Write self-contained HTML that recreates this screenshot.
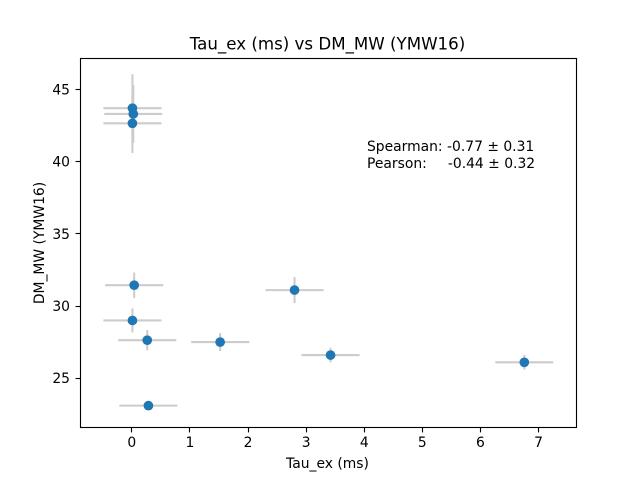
<!DOCTYPE html>
<html>
<head>
<meta charset="utf-8">
<title>Tau_ex (ms) vs DM_MW (YMW16)</title>
<style>
html,body{margin:0;padding:0;background:#fff;width:640px;height:480px;overflow:hidden}
svg{display:block}
text{font-family:"DejaVu Sans","Liberation Sans",sans-serif;fill:#000;white-space:pre}
</style>
</head>
<body>
<svg id="chart" width="640" height="480" viewBox="0 0 640 480" xmlns="http://www.w3.org/2000/svg">
  <rect x="0" y="0" width="640" height="480" fill="#fff"/>
  <g id="errors"></g>
  <g id="points"></g>
  <rect x="80.5" y="58.5" width="496" height="369" fill="none" stroke="#000" stroke-width="1.11"/>
  <g id="xticks"></g>
  <g id="yticks"></g>
  <text x="327.5" y="49.5" text-anchor="middle" font-size="16.67">Tau_ex (ms) vs DM_MW (YMW16)</text>
  <text x="327.5" y="468" text-anchor="middle" font-size="13.89">Tau_ex (ms)</text>
  <text transform="translate(44 243) rotate(-90)" text-anchor="middle" font-size="13.89">DM_MW (YMW16)</text>
  <text x="367" y="151" font-size="13.89" xml:space="preserve">Spearman: -0.77 ± 0.31</text>
  <text x="367" y="168" font-size="13.89" xml:space="preserve">Pearson:     <tspan dx="-1">-0.44 ± 0.32</tspan></text>
</svg>
<script>
var tauValues = [0.01, 0.025, 0.01, 0.04, 0.01, 0.265, 1.52, 0.285, 2.80, 3.42, 6.755];
var dmValues = [43.7, 43.3, 42.65, 31.44, 29.0, 27.63, 27.5, 23.1, 31.1, 26.6, 26.1];
var tauErrors = [0.5, 0.5, 0.5, 0.5, 0.5, 0.5, 0.5, 0.5, 0.5, 0.5, 0.5];
var dmErrors = [2.35, 2.0, 2.05, 0.88, 0.83, 0.7, 0.62, 0.3, 0.9, 0.5, 0.5];
var xTickValues = [0, 1, 2, 3, 4, 5, 6, 7];
var yTickValues = [25, 30, 35, 40, 45];

var NS = 'http://www.w3.org/2000/svg';
function xScale(v) { return 131.85 + 58.1 * v; }
function yScale(v) { return 89.4 + (45 - v) * 14.44; }
function snap(p) { return Math.floor(p) + 0.5; }

function line(parent, x1, y1, x2, y2, color, width) {
  var el = document.createElementNS(NS, 'line');
  el.setAttribute('x1', x1);
  el.setAttribute('y1', y1);
  el.setAttribute('x2', x2);
  el.setAttribute('y2', y2);
  el.setAttribute('stroke', color);
  el.setAttribute('stroke-width', width);
  parent.appendChild(el);
  return el;
}

var errorGroup = document.getElementById('errors');
var pointGroup = document.getElementById('points');
var xTickGroup = document.getElementById('xticks');
var yTickGroup = document.getElementById('yticks');

tauValues.forEach(function (tau, i) {
  var dm = dmValues[i];
  var h = line(errorGroup, xScale(tau - tauErrors[i]), yScale(dm), xScale(tau + tauErrors[i]), yScale(dm), '#cccccc', 2.08);
  
  
  var v = line(errorGroup, xScale(tau), yScale(dm - dmErrors[i]), xScale(tau), yScale(dm + dmErrors[i]), '#cccccc', 2.08);
  
  
});

tauValues.forEach(function (tau, i) {
  var c = document.createElementNS(NS, 'circle');
  c.setAttribute('cx', xScale(tau));
  c.setAttribute('cy', yScale(dmValues[i]));
  c.setAttribute('r', 4.85);
  c.setAttribute('fill', '#1f77b4');
  
  
  pointGroup.appendChild(c);
});

xTickValues.forEach(function (t) {
  var m = line(xTickGroup, snap(xScale(t)), 427.5, snap(xScale(t)), 432.4, '#000', 1.11);
  
  
  var label = document.createElementNS(NS, 'text');
  label.setAttribute('x', xScale(t));
  label.setAttribute('y', 447);
  label.setAttribute('text-anchor', 'middle');
  label.setAttribute('font-size', '13.89');
  
  
  label.textContent = String(t);
  xTickGroup.appendChild(label);
});

yTickValues.forEach(function (t) {
  var m = line(yTickGroup, 75.6, snap(yScale(t)), 80.5, snap(yScale(t)), '#000', 1.11);
  
  
  var label = document.createElementNS(NS, 'text');
  label.setAttribute('x', 70);
  label.setAttribute('y', yScale(t) + 5);
  label.setAttribute('text-anchor', 'end');
  label.setAttribute('font-size', '13.89');
  
  
  label.textContent = String(t);
  yTickGroup.appendChild(label);
});
</script>
</body>
</html>
